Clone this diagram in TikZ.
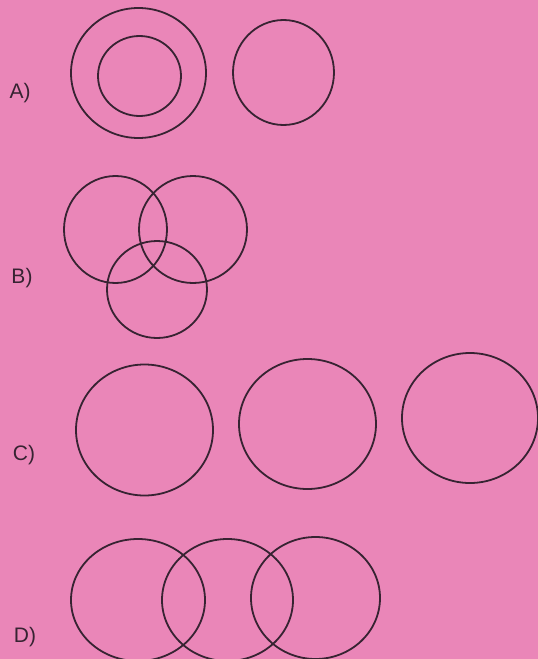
\documentclass[tikz,border=0pt]{standalone}
\usepackage{fontspec}
\setmainfont{Liberation Sans}
\usetikzlibrary{shapes.geometric}
\definecolor{sheet}{RGB}{234,134,184}
\definecolor{ink}{RGB}{55,35,50}

\begin{document}
\begin{tikzpicture}[x=1pt, y=-1pt,
    ring/.style={
        draw=ink, ellipse, inner sep=0pt, line width=1.8pt
    },
    tag/.style={
        font=\fontsize{21}{21}\selectfont, text=ink
    }
]

\fill[sheet] (0,0) rectangle (538,659);
\useasboundingbox (0,0) rectangle (538,659);

% A) one circle inside another, a third apart
\node[tag] (la) at (20,93) {A)};
\node[ring, minimum width=135, minimum height=130] (a1) at (138.5,73) {};
\node[ring, minimum width=83, minimum height=80] (a2) at (139.5,76) {};
\node[ring, minimum width=101, minimum height=105] (a3) at (283.5,72.5) {};

% B) three overlapping circles
\node[tag] (lb) at (22,278) {B)};
\node[ring, minimum width=103, minimum height=107] (b1) at (115.5,229.5) {};
\node[ring, minimum width=108, minimum height=107] (b2) at (193,229.5) {};
\node[ring, minimum width=100, minimum height=97] (b3) at (157,289.5) {};

% C) three separate circles
\node[tag] (lc) at (24,455) {C)};
\node[ring, minimum width=137, minimum height=131] (c1) at (144.5,430) {};
\node[ring, minimum width=137, minimum height=130] (c2) at (307.5,424) {};
\node[ring, minimum width=136, minimum height=130] (c3) at (470,418) {};

% D) a chain of circles
\node[tag] (ld) at (25,637) {D)};
\node[ring, minimum width=134, minimum height=122] (d1) at (138,600) {};
\node[ring, minimum width=131, minimum height=122] (d2) at (227.5,600) {};
\node[ring, minimum width=129, minimum height=122] (d3) at (315.5,598) {};

\end{tikzpicture}
\end{document}
